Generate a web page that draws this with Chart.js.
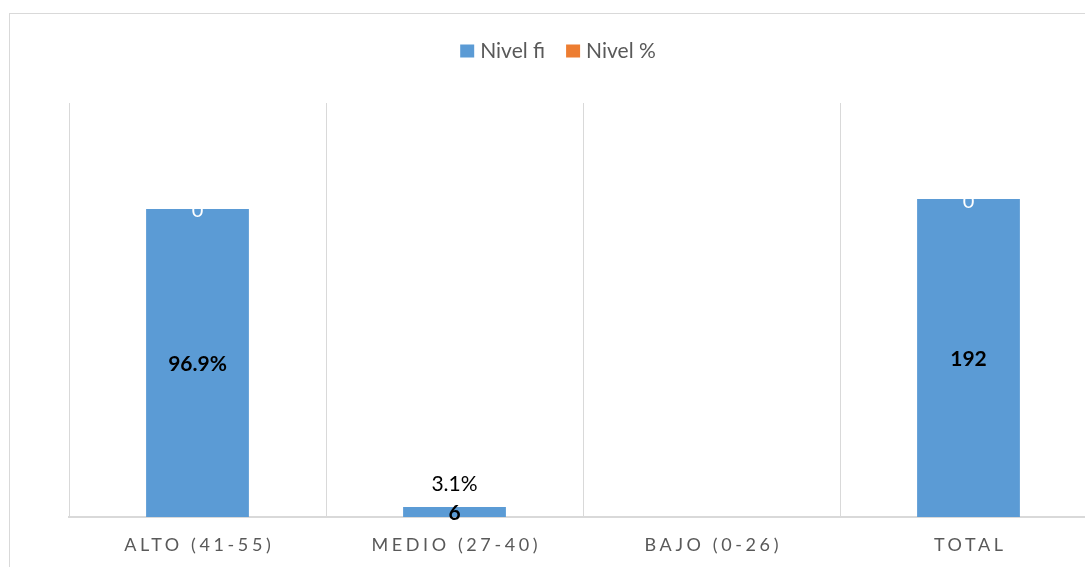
<!DOCTYPE html>
<html>
<head>
<meta charset="utf-8">
<script src="https://cdn.jsdelivr.net/npm/chart.js@4.4.1/dist/chart.umd.min.js"></script>
<style>
  html, body { margin: 0; padding: 0; background: #fff; overflow: hidden; width: 1085px; height: 567px; }
  #frame { position: absolute; left: 9px; top: 13px; width: 1097px; height: 600px; border: 1px solid #d9d9d9; box-sizing: border-box; }
  #chart { position: absolute; left: 0; top: 0; }
</style>
</head>
<body>
<div id="frame"></div>
<canvas id="chart" width="1120" height="567"></canvas>
<script>
// Categories and series
const categories = ['ALTO (41-55)', 'MEDIO (27-40)', 'BAJO (0-26)', 'TOTAL'];
const nivelFi = [186, 6, 0, 192];
const nivelPct = [0, 0, 0, 0];
// Text shown on the bars
const centerLabels = ['96.9%', '6', '', '192'];
const topLabels = ['0', '', '', '0'];
const aboveLabels = ['', '3.1%', '', ''];
const yMax = 250;

const FONT = 'Lato, "Open Sans", sans-serif';
const BLUE = '#5b9bd5';
const ORANGE = '#ed7d31';
const GREY_TEXT = '#595959';

const barLabels = {
  id: 'barLabels',
  afterDatasetsDraw(chart) {
    const ctx = chart.ctx;
    const fi = chart.getDatasetMeta(0).data;
    const pc = chart.getDatasetMeta(1).data;
    ctx.save();
    ctx.textAlign = 'center';
    ctx.textBaseline = 'middle';
    fi.forEach((bar, i) => {
      const mid = (bar.y + bar.base) / 2;
      if (centerLabels[i]) {
        ctx.font = 'bold 21px ' + FONT;
        ctx.fillStyle = '#000';
        ctx.fillText(centerLabels[i], bar.x, mid + 1.5);
      }
      if (aboveLabels[i]) {
        ctx.font = '21px ' + FONT;
        ctx.fillStyle = '#000';
        ctx.fillText(aboveLabels[i], bar.x, bar.y - 22.5);
      }
      if (topLabels[i]) {
        ctx.font = '20px ' + FONT;
        ctx.fillStyle = '#fff';
        ctx.fillText(topLabels[i], pc[i].x, pc[i].y + 2);
      }
    });
    ctx.restore();
  }
};

const axisAndLegend = {
  id: 'axisAndLegend',
  afterDraw(chart) {
    const ctx = chart.ctx;
    const xs = chart.scales.x;
    ctx.save();
    // category labels, letter-spaced
    ctx.font = '18px ' + FONT;
    ctx.fillStyle = GREY_TEXT;
    ctx.textAlign = 'center';
    ctx.textBaseline = 'middle';
    const sp = 3.6;
    ctx.letterSpacing = sp + 'px';
    categories.forEach((c, i) => {
      ctx.fillText(c, xs.getPixelForValue(i) + sp / 2, 545);
    });
    ctx.letterSpacing = '0px';
    // legend
    ctx.font = '21px ' + FONT;
    ctx.textAlign = 'left';
    const box = 14, gap = 6, between = 21;
    const items = chart.data.datasets.map(d => ({ text: d.label, color: d.backgroundColor, w: ctx.measureText(d.label).width }));
    const total = items.reduce((s, it) => s + box + gap + it.w, 0) + between * (items.length - 1);
    let x = 558 - total / 2;
    const cy = 51;
    items.forEach(it => {
      ctx.fillStyle = it.color;
      ctx.fillRect(x, cy - 6.5, box, 13);
      x += box + gap;
      ctx.fillStyle = GREY_TEXT;
      ctx.fillText(it.text, x, cy);
      x += it.w + between;
    });
    ctx.restore();
  }
};

new Chart(document.getElementById('chart'), {
  type: 'bar',
  data: {
    labels: categories,
    datasets: [
      { label: 'Nivel fi', data: nivelFi, backgroundColor: BLUE, borderWidth: 0, categoryPercentage: 0.4, barPercentage: 1 },
      { label: 'Nivel %', data: nivelPct, backgroundColor: ORANGE, borderWidth: 0, categoryPercentage: 0.4, barPercentage: 1 }
    ]
  },
  options: {
    responsive: false,
    animation: false,
    events: [],
    layout: { padding: { left: 69, right: 23, top: 103, bottom: 50 } },
    plugins: { legend: { display: false }, tooltip: { enabled: false } },
    scales: {
      x: {
        stacked: true,
        grid: { color: '#d9d9d9', lineWidth: 1, drawTicks: false, offset: true },
        border: { color: '#d9d9d9', width: 2 },
        ticks: { display: false }
      },
      y: { stacked: true, display: false, min: 0, max: yMax }
    }
  },
  plugins: [barLabels, axisAndLegend]
});
</script>
</body>
</html>
